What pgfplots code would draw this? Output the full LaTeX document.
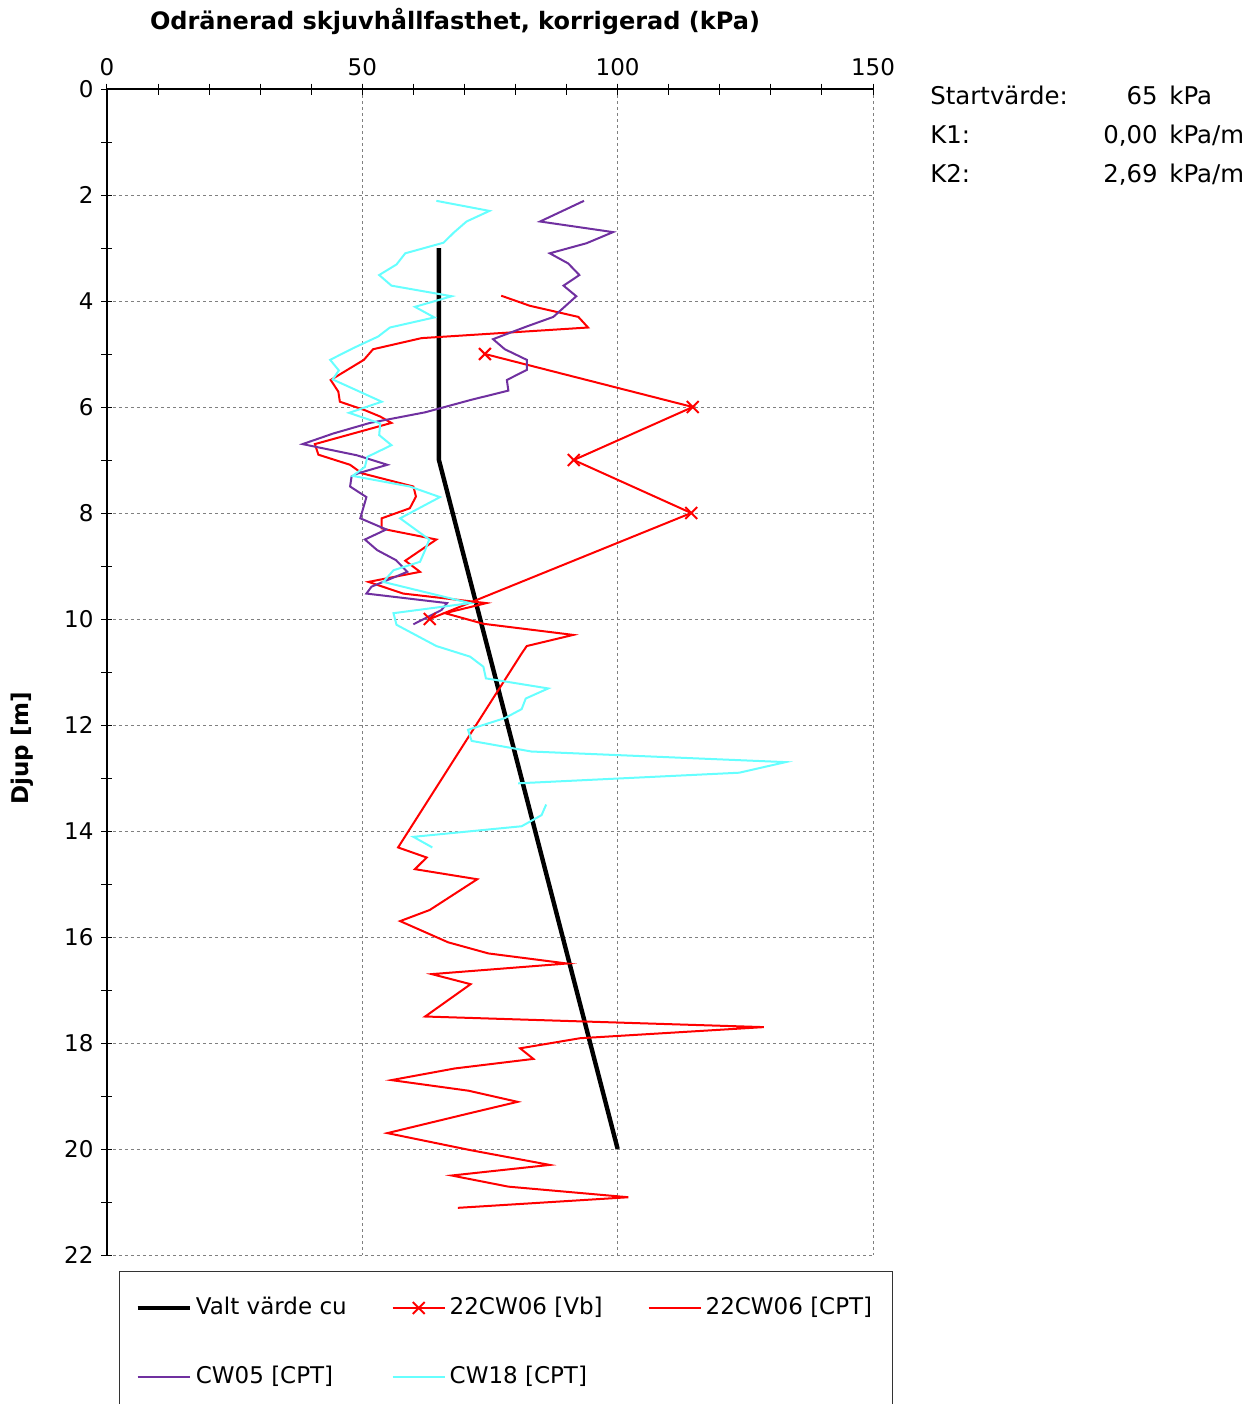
\documentclass[border=0pt]{standalone}
\usepackage{fontspec}
\setmainfont{DejaVu Sans}
\usepackage{pgfplots}
\pgfplotsset{compat=1.18}
\definecolor{cwred}{RGB}{255,0,0}
\definecolor{cwpurple}{RGB}{112,48,160}
\definecolor{cwcyan}{RGB}{102,255,255}
\begin{document}
\fontsize{11.5}{14}\selectfont
\begin{tikzpicture}
\path[use as bounding box] (0,0) rectangle (629pt,702pt);
\begin{axis}[
  at={(53.5pt,74.5pt)}, anchor=south west,
  scale only axis, width=383pt, height=583pt,
  xmin=0, xmax=150, ymin=0, ymax=22, y dir=reverse,
  axis x line*=top, axis y line*=left,
  axis line style={line width=0.6pt, -},
  xtick={0,50,100,150}, minor xtick={10,20,...,140},
  ytick={0,2,...,22}, minor ytick={1,3,...,21},
  tick align=center, major tick length=5.5pt, minor tick length=5.5pt,
  tick style={black, line width=0.5pt},
  xticklabel pos=upper,
  grid=major,
  major grid style={gray, line width=0.5pt, dash pattern=on 1.5pt off 1.5pt},
  /pgf/number format/assume math mode=true,
  ticklabel style={font=\fontsize{11.5}{14}\selectfont},
  clip=false,
  legend columns=3,
  legend style={at={(axis description cs:0.0157,-0.0137)}, anchor=north west,
    draw=black!80, line width=0.5pt, inner xsep=8pt, inner ysep=11pt,
    font=\fontsize{11.5}{14}\selectfont,
    /tikz/every odd column/.append style={column sep=0pt},
    /tikz/every even column/.append style={column sep=20.5pt},
    row sep=20pt, legend cell align=left},
  legend image code/.code={\draw[mark repeat=2, mark phase=2, #1] plot coordinates {(0pt,0pt) (13pt,0pt) (26pt,0pt)};},
]
\addplot[black, line width=2.2pt] coordinates {(65,3) (65,7) (100,20)};
\addlegendentry{Valt värde cu}
\addplot[cwred, line width=1pt, mark=x, mark size=4.2pt, mark options={line width=1pt}] coordinates {
(74,5) (114.7,6) (91.4,7) (114.4,8) (63.2,10)};
\addlegendentry{22CW06 [Vb]}
\addplot[cwred, line width=1pt] coordinates {
(77.2,3.90) (82.8,4.09) (92.3,4.30) (94.2,4.50) (61.6,4.70) (52.1,4.91) (50.3,5.11) (43.8,5.49) (45.3,5.71) (45.6,5.90) (50.5,6.06) (53.5,6.18) (55.7,6.30) (40.7,6.70) (41.4,6.90) (47.6,7.09) (49.9,7.25) (60.0,7.50) (60.5,7.69) (59.3,7.91) (53.8,8.10) (53.8,8.29) (55.1,8.32) (64.5,8.50) (58.4,8.90) (61.3,9.11) (51.2,9.30) (58.0,9.52) (74.3,9.70) (66.2,9.89) (73.7,10.09) (91.3,10.30) (82.2,10.51) (81.2,10.65) (57.0,14.31) (62.6,14.50) (60.3,14.72) (72.5,14.91) (63.2,15.49) (57.4,15.70) (66.8,16.10) (74.7,16.31) (90.1,16.50) (63.6,16.70) (71.2,16.89) (62.3,17.50) (128.6,17.70) (92.6,17.91) (80.9,18.10) (83.5,18.30) (68.1,18.48) (55.7,18.70) (70.8,18.90) (80.4,19.11) (70.8,19.33) (54.9,19.70) (71.1,20.02) (86.7,20.30) (67.5,20.50) (78.6,20.71) (102.1,20.91) (68.7,21.11)};
\addlegendentry{22CW06 [CPT]}
\addplot[cwpurple, line width=1pt] coordinates {
(93.4,2.11) (84.8,2.50) (99.1,2.70) (93.9,2.91) (86.7,3.10) (90.3,3.29) (92.5,3.51) (89.4,3.71) (91.9,3.91) (87.4,4.30) (82.2,4.48) (75.6,4.72) (77.9,4.91) (82.2,5.11) (82.2,5.30) (78.3,5.49) (78.6,5.69) (71.1,5.87) (62.3,6.10) (51.5,6.30) (44.3,6.50) (38.3,6.70) (48.9,6.91) (54.9,7.09) (49.2,7.25) (47.9,7.31) (47.6,7.50) (50.8,7.70) (49.6,8.10) (54.7,8.31) (50.5,8.50) (52.9,8.70) (56.6,8.89) (58.8,9.11) (51.8,9.39) (50.8,9.52) (66.6,9.70) (65.5,9.83) (60.0,10.10)};
\addlegendentry{CW05 [CPT]}
\addplot[cwcyan, line width=1pt] coordinates {
(64.5,2.11) (74.9,2.30) (70.4,2.50) (67.9,2.71) (65.9,2.90) (58.4,3.10) (56.7,3.31) (53.3,3.51) (55.7,3.71) (67.5,3.91) (60.3,4.11) (64.1,4.31) (55.4,4.50) (53.1,4.67) (48.2,4.89) (43.7,5.11) (45.4,5.31) (44.2,5.48) (53.8,5.90) (47.4,6.11) (53.5,6.31) (53.3,6.53) (55.7,6.72) (51.0,6.94) (50.5,7.13) (48.1,7.30) (59.3,7.50) (65.2,7.70) (57.4,8.10) (63.1,8.50) (62.3,8.70) (61.3,8.92) (56.1,9.08) (54.1,9.30) (71.1,9.70) (56.1,9.89) (56.7,10.11) (64.5,10.51) (71.1,10.71) (73.7,10.90) (74.2,11.12) (86.4,11.31) (82.0,11.50) (81.2,11.70) (77.9,11.87) (70.7,12.09) (71.4,12.30) (83.1,12.50) (132.9,12.70) (123.8,12.90) (80.5,13.10)};
\addlegendentry{CW18 [CPT]}
\addplot[cwcyan, line width=1pt, forget plot] coordinates {
(86.0,13.50) (85.1,13.70) (81.2,13.91) (60.0,14.11) (63.7,14.31)};
\end{axis}
\node[font=\bfseries\fontsize{12}{14}\selectfont] at (227.5pt,691.5pt) {Odränerad skjuvhållfasthet, korrigerad (kPa)};
\node[font=\bfseries\fontsize{11.5}{14}\selectfont, rotate=90] at (11pt,328pt) {Djup [m]};
\begin{scope}[every node/.style={inner sep=0pt, font=\fontsize{12.2}{14}\selectfont}]
\node[anchor=base west] at (465pt,649.5pt) {Startvärde:};
\node[anchor=base east] at (579pt,649.5pt) {65};
\node[anchor=base west] at (584.5pt,649.5pt) {kPa};
\node[anchor=base west] at (465pt,630pt) {K1:};
\node[anchor=base east] at (579pt,630pt) {0,00};
\node[anchor=base west] at (584.5pt,630pt) {kPa/m};
\node[anchor=base west] at (465pt,610.5pt) {K2:};
\node[anchor=base east] at (579pt,610.5pt) {2,69};
\node[anchor=base west] at (584.5pt,610.5pt) {kPa/m};
\end{scope}
\end{tikzpicture}
\end{document}
